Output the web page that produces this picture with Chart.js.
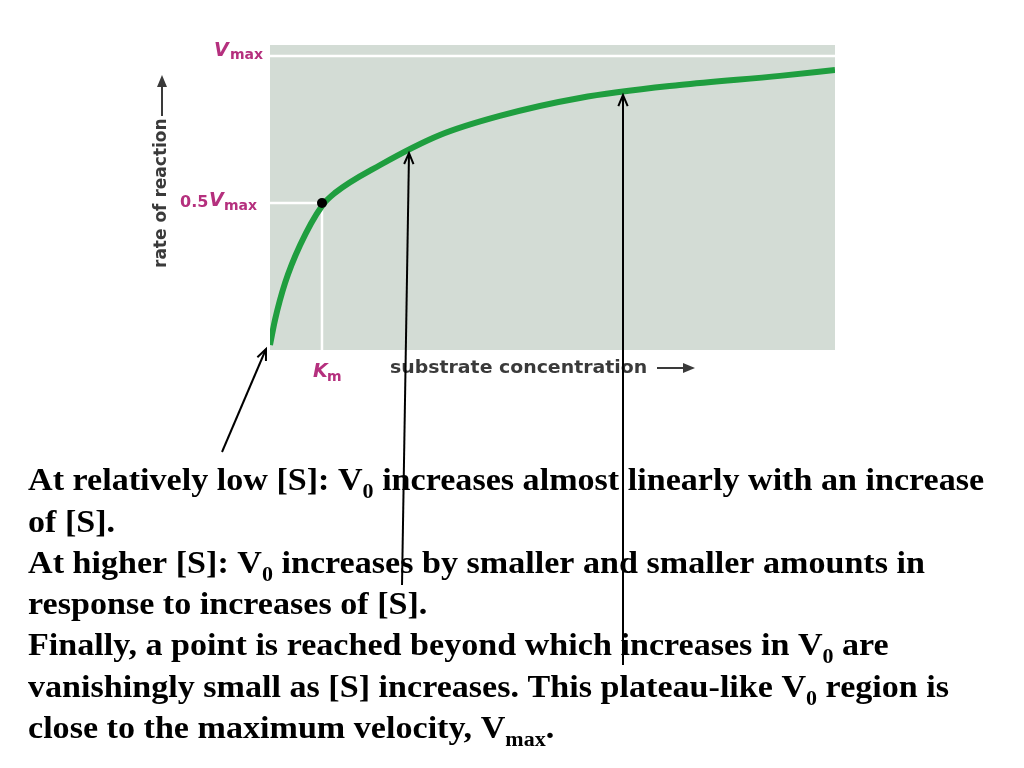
<!DOCTYPE html>
<html>
<head>
<meta charset="utf-8">
<script src="https://cdn.jsdelivr.net/npm/chart.js@4"></script>
<style>body{margin:0;background:#fff}canvas{display:block}</style>
</head>
<body>
<canvas id="mm" width="1024" height="768"></canvas>
<script>
// substrate concentration (units of Km) and rate (fraction of Vmax)
const substrate = [0, 0.096, 0.29, 0.58, 1.0, 1.25, 2.12, 3.27, 4.42, 5.96, 7.88, 9.81, 10.87];
const rate = [0.017, 0.102, 0.228, 0.357, 0.49, 0.534, 0.629, 0.731, 0.796, 0.857, 0.901, 0.932, 0.952];
const kmPoint = [1.0, 0.5];
const vmax = 1.0;

const magenta = '#b5307e';
const labelGrey = '#3a3a3a';

// gray panel, white guide lines and axis labels
const decor = {
  id: 'decor',
  beforeDatasetsDraw(chart) {
    const c = chart.ctx, a = chart.chartArea;
    const x = chart.scales.x, y = chart.scales.y;
    c.save();
    c.fillStyle = '#d3dcd5';
    c.fillRect(a.left, a.top, a.right - a.left, a.bottom - a.top);
    c.strokeStyle = '#fff';
    c.lineWidth = 2.5;
    c.beginPath();
    c.moveTo(a.left, y.getPixelForValue(vmax));
    c.lineTo(a.right, y.getPixelForValue(vmax));
    c.moveTo(a.left, y.getPixelForValue(0.5));
    c.lineTo(x.getPixelForValue(kmPoint[0]), y.getPixelForValue(0.5));
    c.moveTo(x.getPixelForValue(kmPoint[0]), y.getPixelForValue(0.5));
    c.lineTo(x.getPixelForValue(kmPoint[0]), a.bottom + 22);
    c.stroke();

    // tick-like labels
    c.fillStyle = magenta;
    c.textBaseline = 'middle';
    c.textAlign = 'left';
    c.font = 'bold italic 19px "DejaVu Sans"';
    const vy = y.getPixelForValue(vmax) - 5;
    c.fillText('V', 214, vy);
    c.font = 'bold 14px "DejaVu Sans"';
    c.fillText('max', 230, vy + 4);
    const hy = y.getPixelForValue(0.5);
    c.font = 'bold 16px "DejaVu Sans"';
    c.fillText('0.5', 180, hy);
    c.font = 'bold italic 19px "DejaVu Sans"';
    c.fillText('V', 209, hy - 2);
    c.font = 'bold 14px "DejaVu Sans"';
    c.fillText('max', 224, hy + 3);
    const kx = x.getPixelForValue(kmPoint[0]);
    c.font = 'bold italic 19px "DejaVu Sans"';
    c.fillText('K', kx - 9, a.bottom + 22);
    c.font = 'bold 14px "DejaVu Sans"';
    c.fillText('m', kx + 5, a.bottom + 27);

    // axis titles
    c.fillStyle = labelGrey;
    c.font = 'bold 18px "DejaVu Sans"';
    c.save();
    c.translate(390, a.bottom + 18);
    c.scale(1.05, 1);
    c.fillText('substrate concentration', 0, 0);
    c.restore();
    c.strokeStyle = labelGrey; c.lineWidth = 2;
    c.beginPath(); c.moveTo(657, a.bottom + 18); c.lineTo(690, a.bottom + 18); c.stroke();
    c.beginPath(); c.moveTo(695, a.bottom + 18); c.lineTo(683, a.bottom + 13); c.lineTo(683, a.bottom + 23); c.closePath(); c.fill();
    c.save();
    c.translate(162, 268);
    c.rotate(-Math.PI / 2);
    c.font = 'bold 17px "DejaVu Sans"';
    c.fillText('rate of reaction', 0, 0);
    c.beginPath(); c.moveTo(152, 0); c.lineTo(188, 0); c.stroke();
    c.beginPath(); c.moveTo(193, 0); c.lineTo(181, -5); c.lineTo(181, 5); c.closePath(); c.fill();
    c.restore();
    c.restore();
  },
  afterDatasetsDraw(chart) {
    const c = chart.ctx;
    const x = chart.scales.x, y = chart.scales.y;
    c.save();
    c.fillStyle = '#000';
    c.beginPath();
    c.arc(x.getPixelForValue(kmPoint[0]), y.getPixelForValue(kmPoint[1]), 5, 0, Math.PI * 2);
    c.fill();

    // explanatory text
    const lines = [
      [['At relatively low [S]: V'], ['0', 1], [' increases almost linearly with an increase']],
      [['of [S].']],
      [['At higher [S]: V'], ['0', 1], [' increases by smaller and smaller amounts in']],
      [['response to increases of [S].']],
      [['Finally, a point is reached beyond which increases in V'], ['0', 1], [' are']],
      [['vanishingly small as [S] increases. This plateau-like V'], ['0', 1], [' region is']],
      [['close to the maximum velocity, V'], ['max', 1], ['.']]
    ];
    const base = [490, 532, 573, 614, 655, 697, 738];
    c.textBaseline = 'alphabetic';
    c.textAlign = 'left';
    lines.forEach((segs, i) => {
      c.save();
      c.translate(28, 0);
      c.scale(1.1, 1);
      let px = 0;
      segs.forEach(s => {
        c.font = s[1] ? 'bold 20px "Liberation Serif"' : 'bold 31px "Liberation Serif"';
        c.fillText(s[0], px, base[i] + (s[1] ? 8 : 0));
        px += c.measureText(s[0]).width;
      });
      c.restore();
    });

    // pointer arrows
    const arrow = (x0, y0, x1, y1) => {
      const ang = Math.atan2(y1 - y0, x1 - x0);
      c.strokeStyle = '#000'; c.lineWidth = 2;
      c.beginPath(); c.moveTo(x0, y0); c.lineTo(x1, y1); c.stroke();
      c.beginPath();
      c.moveTo(x1 - 12 * Math.cos(ang - 0.4), y1 - 12 * Math.sin(ang - 0.4));
      c.lineTo(x1, y1);
      c.lineTo(x1 - 12 * Math.cos(ang + 0.4), y1 - 12 * Math.sin(ang + 0.4));
      c.stroke();
    };
    arrow(222, 452, 266, 349);
    arrow(402, 585, 409, 153);
    arrow(623, 665, 623, 95);
    c.restore();
  }
};

new Chart(document.getElementById('mm'), {
  type: 'line',
  data: {
    datasets: [{
      data: substrate.map((s, i) => ({ x: s, y: rate[i] })),
      borderColor: '#1f9e3f',
      borderWidth: 6,
      pointRadius: 0,
      cubicInterpolationMode: 'monotone'
    }]
  },
  options: {
    responsive: false,
    animation: false,
    layout: { padding: { left: 270, right: 189, top: 45, bottom: 418 } },
    scales: {
      x: { type: 'linear', min: 0, max: 10.87, display: false },
      y: { min: 0, max: 1.037, display: false }
    },
    plugins: { legend: { display: false }, tooltip: { enabled: false } }
  },
  plugins: [decor]
});
</script>
</body>
</html>
